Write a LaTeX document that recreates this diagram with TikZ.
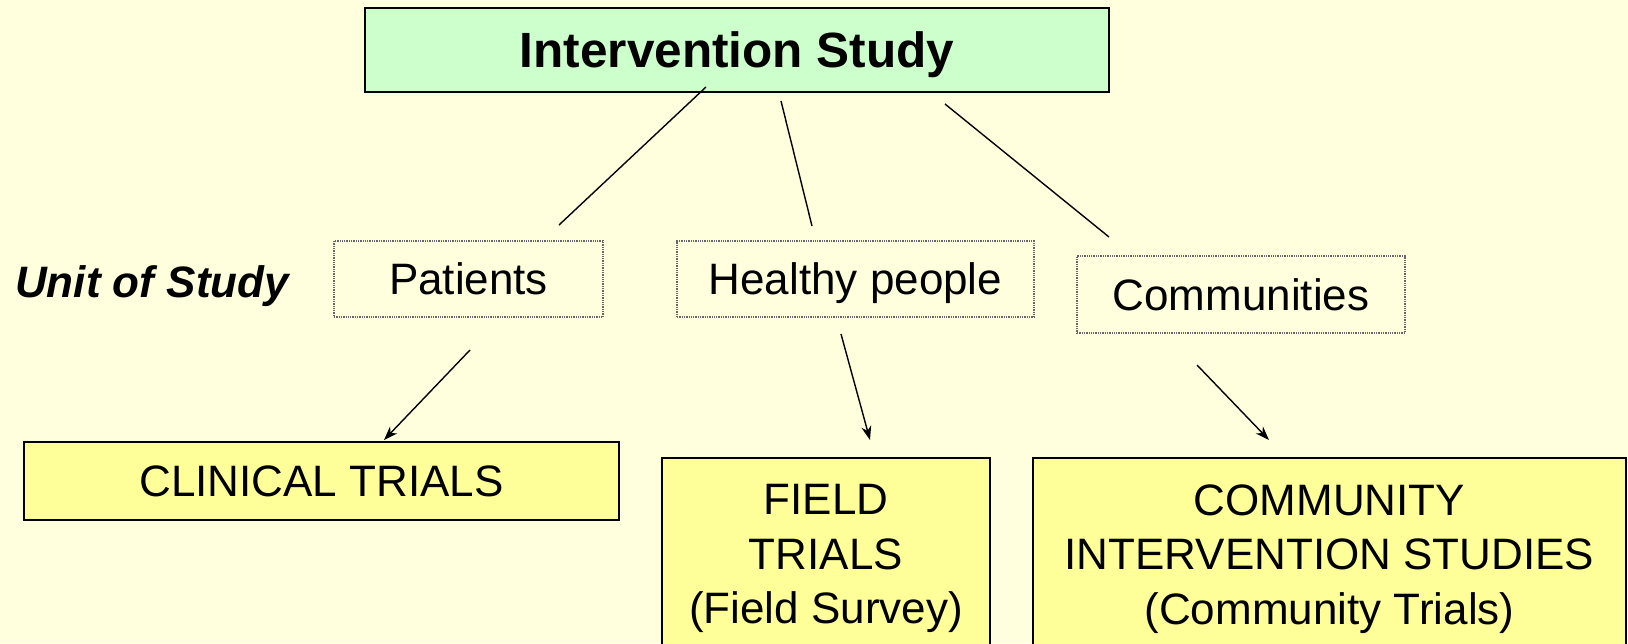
\documentclass[tikz,border=0pt]{standalone}
\usepackage{fontspec}
\setmainfont{Liberation Sans}
\usetikzlibrary{arrows.meta}

\definecolor{pagebg}{RGB}{255,255,221}
\definecolor{studygreen}{RGB}{204,255,204}
\definecolor{trialyellow}{RGB}{255,255,153}

\tikzset{
  bigtext/.style={font=\fontsize{44}{54.5}\selectfont},
  titlebox/.style={draw=black, line width=2, fill=studygreen, inner sep=0pt,
    font=\fontsize{49.5}{60}\selectfont\bfseries, text height=35.4pt, text depth=0pt},
  unitbox/.style={draw=black!60, densely dotted, line width=1.3, inner sep=0pt,
    bigtext, text height=31.5pt, text depth=0pt},
  trialbox/.style={draw=black, line width=1.8, fill=trialyellow, inner sep=0pt,
    bigtext, text height=31.5pt, text depth=0pt},
  tallbox/.style={draw=black, line width=1.8, fill=trialyellow, inner xsep=0pt,
    inner ysep=17pt, bigtext, align=center, anchor=north},
  link/.style={draw=black, line width=1.4},
  arrowlink/.style={link, -{Stealth[length=14pt,width=10pt]}}
}

\begin{document}
\begin{tikzpicture}[x=1pt,y=-1pt]
  \useasboundingbox (0,0) rectangle (1628,643);
  \clip (0,0) rectangle (1628,643);
  \fill[pagebg] (0,0) rectangle (1628,643);

  % root of the tree
  \node[titlebox, minimum width=744pt, minimum height=84pt] (root) at (737,50) {Intervention Study};

  % units of study
  \node[anchor=west, inner sep=0pt, bigtext, font=\fontsize{44}{54.5}\selectfont\bfseries\itshape,
        text height=31.5pt, text depth=0pt] (unit) at (15,282) {Unit of Study};
  \node[unitbox, minimum width=269pt, minimum height=76pt] (patients) at (468.5,279) {Patients};
  \node[unitbox, minimum width=357pt, minimum height=76pt] (healthy) at (855.5,279) {Healthy people};
  \node[unitbox, minimum width=328pt, minimum height=77pt] (communities) at (1241,294.5) {Communities};

  % kinds of trial (their lower edges run off the bottom of the page)
  \node[trialbox, minimum width=595pt, minimum height=78pt] (clinical) at (321.5,481) {CLINICAL TRIALS};
  \node[tallbox, minimum width=328pt, minimum height=202pt] (field) at (826,457)
    {FIELD\\TRIALS\\(Field Survey)};
  \node[tallbox, minimum width=593pt, minimum height=202pt] (community) at (1329.5,457)
    {COMMUNITY\\INTERVENTION STUDIES\\(Community Trials)};

  % connector end points
  \coordinate (r1) at (706,87);   \coordinate (p1) at (559,225);
  \coordinate (r2) at (781,101);  \coordinate (h1) at (812,226);
  \coordinate (r3) at (945,104);  \coordinate (c1) at (1109,237);
  \coordinate (p2) at (470,350);  \coordinate (ct) at (384,440);
  \coordinate (h2) at (841,334);  \coordinate (ft) at (870,440);
  \coordinate (c2) at (1197,365); \coordinate (mt) at (1269,440);

  % tree lines
  \draw[link] (r1) -- (p1);
  \draw[link] (r2) -- (h1);
  \draw[link] (r3) -- (c1);

  % arrows to trial types
  \draw[arrowlink] (p2) -- (ct);
  \draw[arrowlink] (h2) -- (ft);
  \draw[arrowlink] (c2) -- (mt);
\end{tikzpicture}
\end{document}
